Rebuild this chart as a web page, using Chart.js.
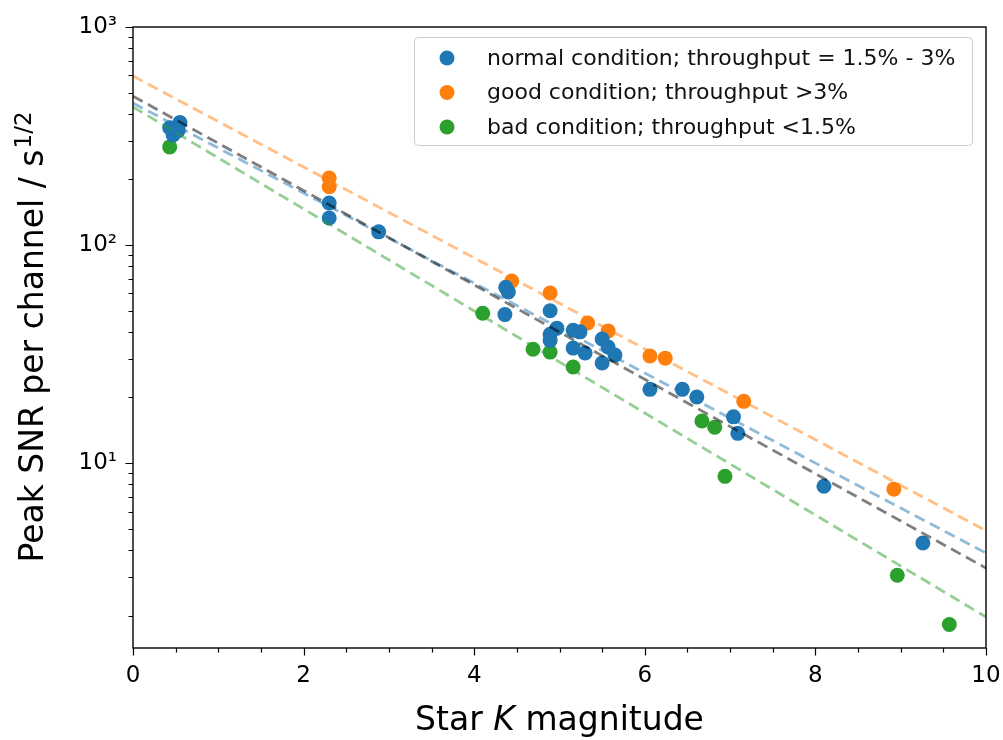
<!DOCTYPE html>
<html>
<head>
<meta charset="utf-8">
<title>Peak SNR vs K magnitude</title>
<script src="https://cdn.jsdelivr.net/npm/chart.js@4/dist/chart.umd.min.js"></script>
<style>
  body { margin: 0; background: #fff; }
  #holder { width: 1003px; height: 740px; }
</style>
</head>
<body>
<div id="holder"><canvas id="snrcanvas"></canvas></div>

<script>
// star K magnitude / peak SNR
var normalK   = [0.43, 0.47, 0.53, 0.55, 2.30, 2.30, 2.88, 4.37, 4.40, 4.36, 4.89, 4.97, 4.89, 4.89, 5.16, 5.24, 5.16, 5.30, 5.50, 5.57, 5.65, 5.50, 6.06, 6.44, 6.61, 7.04, 7.09, 8.10, 9.26];
var normalSNR = [345, 320, 335, 365, 156, 133, 115, 64, 61, 48, 50, 41.6, 39, 36.5, 40.7, 40, 33.7, 32, 37.1, 34.1, 31.3, 28.8, 21.8, 21.8, 20.1, 16.3, 13.7, 7.84, 4.3];

var goodK   = [2.30, 2.30, 4.44, 4.89, 5.33, 5.57, 6.06, 6.24, 7.16, 8.92];
var goodSNR = [203, 185, 68.4, 60.3, 43.9, 40.4, 31, 30.3, 19.2, 7.6];

var badK   = [0.43, 4.10, 4.69, 4.89, 5.16, 6.67, 6.82, 6.94, 8.96, 9.57];
var badSNR = [282, 48.7, 33.3, 32.3, 27.6, 15.6, 14.6, 8.7, 3.06, 1.82];

// fitted lines, value at K = 0 and K = 10
var fitK      = [0, 10];
var fitAll    = [482, 3.3];
var fitNormal = [448, 3.87];
var fitGood   = [596, 4.9];
var fitBad    = [430, 1.97];

var seriesLabels = [
    "normal condition; throughput = 1.5% - 3%",
    "good condition; throughput >3%",
    "bad condition; throughput <1.5%"
];
var xTicks = [0, 2, 4, 6, 8, 10];
var yTicks = [10, 100, 1000];
var supDigits = { 1: "\u00b9", 2: "\u00b2", 3: "\u00b3" };

var FONT = "'DejaVu Sans', sans-serif";

function pts(xs, ys) {
    return xs.map(function(x, i) { return { x: x, y: ys[i] }; });
}

function scatterSet(label, xs, ys, color) {
    return {
        label: label,
        data: pts(xs, ys),
        backgroundColor: color,
        borderWidth: 0,
        pointRadius: 7.5,
        pointHoverRadius: 7.5,
        showLine: false,
        order: 1
    };
}

function fitSet(ys, color) {
    return {
        label: "",
        data: pts(fitK, ys),
        showLine: true,
        borderColor: color,
        borderWidth: 2.8,
        borderDash: [11, 6],
        pointRadius: 0,
        fill: false,
        order: 0,
        isFit: true
    };
}

// axes frame, tick marks, titles and legend
var decor = {
    id: "decor",
    afterDraw: function(chart) {
        var ctx = chart.ctx;
        var a = chart.chartArea;
        var xs = chart.scales.x, ys = chart.scales.y;
        ctx.save();
        ctx.strokeStyle = "#000";
        ctx.lineWidth = 1.4;
        ctx.strokeRect(a.left, a.top, a.right - a.left, a.bottom - a.top);

        ctx.lineWidth = 1.2;
        ctx.beginPath();
        // x ticks, major every 2 and minor every 0.5
        for (var k = 0; k <= 20; k++) {
            var v = k * 0.5;
            var px = Math.round(xs.getPixelForValue(v)) + 0.5;
            var len = (k % 4 === 0) ? 7.5 : 4.5;
            ctx.moveTo(px, a.bottom);
            ctx.lineTo(px, a.bottom + len);
        }
        // y ticks, log decades with 2..9 minors
        for (var d = 0; d <= 3; d++) {
            for (var m = 1; m <= 9; m++) {
                var val = m * Math.pow(10, d);
                if (val < ys.min || val > ys.max) continue;
                var py = Math.round(ys.getPixelForValue(val)) + 0.5;
                var l2 = (m === 1) ? 7.5 : 4.5;
                ctx.moveTo(a.left, py);
                ctx.lineTo(a.left - l2, py);
            }
        }
        ctx.stroke();

        // x title with italic K
        ctx.fillStyle = "#000";
        ctx.textBaseline = "alphabetic";
        var parts = [["Star ", "normal"], ["K", "italic"], [" magnitude", "normal"]];
        var widths = parts.map(function(p) {
            ctx.font = p[1] + " 33px " + FONT;
            return ctx.measureText(p[0]).width;
        });
        var total = widths.reduce(function(s, w) { return s + w; }, 0);
        var cx = (a.left + a.right) / 2 - total / 2;
        parts.forEach(function(p, i) {
            ctx.font = p[1] + " 33px " + FONT;
            ctx.fillText(p[0], cx, 730);
            cx += widths[i];
        });

        // y title with s^(1/2)
        ctx.save();
        ctx.translate(43, (a.top + a.bottom) / 2);
        ctx.rotate(-Math.PI / 2);
        ctx.font = "33px " + FONT;
        var main = "Peak SNR per channel / s";
        var wMain = ctx.measureText(main).width;
        ctx.font = "23px " + FONT;
        var wSup = ctx.measureText("1/2").width;
        var sx = -(wMain + wSup) / 2;
        ctx.font = "33px " + FONT;
        ctx.fillText(main, sx, 0);
        ctx.font = "23px " + FONT;
        ctx.fillText("1/2", sx + wMain + 1, -12);
        ctx.restore();

        // legend box
        ctx.beginPath();
        ctx.roundRect(414.5, 37.5, 558, 108, 4);
        ctx.fillStyle = "rgba(255,255,255,0.85)";
        ctx.fill();
        ctx.strokeStyle = "#cccccc";
        ctx.lineWidth = 1;
        ctx.stroke();
        ctx.font = "22px " + FONT;
        ctx.textBaseline = "middle";
        var row = 0;
        chart.data.datasets.forEach(function(ds) {
            if (ds.isFit) return;
            var ry = 58 + row * 34.5;
            ctx.beginPath();
            ctx.arc(447, ry, 7.5, 0, Math.PI * 2);
            ctx.fillStyle = ds.backgroundColor;
            ctx.fill();
            ctx.fillStyle = "#111";
            ctx.fillText(ds.label, 487, ry + 1);
            row++;
        });
        ctx.restore();
    }
};

var config = {
    type: "scatter",
    data: {
        datasets: [
            fitSet(fitAll, "rgba(0,0,0,0.5)"),
            fitSet(fitNormal, "rgba(31,119,180,0.5)"),
            fitSet(fitGood, "rgba(255,127,14,0.5)"),
            fitSet(fitBad, "rgba(44,160,44,0.5)"),
            scatterSet(seriesLabels[0], normalK, normalSNR, "#1f77b4"),
            scatterSet(seriesLabels[1], goodK, goodSNR, "#ff7f0e"),
            scatterSet(seriesLabels[2], badK, badSNR, "#2ca02c")
        ]
    },
    options: {
        responsive: true,
        maintainAspectRatio: false,
        animation: false,
        events: [],
        layout: { padding: { top: 27, right: 17, left: 0, bottom: 0 } },
        plugins: {
            legend: { display: false },
            tooltip: { enabled: false }
        },
        scales: {
            x: {
                type: "linear",
                min: 0,
                max: 10,
                grid: { display: false, drawTicks: false },
                border: { display: false },
                afterBuildTicks: function(scale) {
                    scale.ticks = xTicks.map(function(v) { return { value: v }; });
                },
                afterFit: function(scale) {
                    scale.height = 92;
                    scale.paddingLeft = 0;
                    scale.paddingRight = 0;
                },
                ticks: {
                    padding: 14,
                    color: "#000",
                    font: { family: FONT, size: 23 },
                    maxRotation: 0,
                    autoSkip: false
                }
            },
            y: {
                type: "logarithmic",
                min: 1.42,
                max: 1000,
                grid: { display: false, drawTicks: false },
                border: { display: false },
                afterBuildTicks: function(scale) {
                    scale.ticks = yTicks.map(function(v) { return { value: v }; });
                },
                afterFit: function(scale) {
                    scale.width = 133;
                    scale.paddingTop = 0;
                    scale.paddingBottom = 0;
                },
                ticks: {
                    padding: 16,
                    color: "#000",
                    font: { family: FONT, size: 23 },
                    autoSkip: false,
                    callback: function(v) {
                        var e = Math.round(Math.log10(v));
                        return "10" + supDigits[e];
                    }
                }
            }
        }
    },
    plugins: [decor]
};

window.onload = function() {
    var ctx = document.getElementById("snrcanvas").getContext("2d");
    window.snrChart = new Chart(ctx, config);
};
</script>
</body>
</html>
